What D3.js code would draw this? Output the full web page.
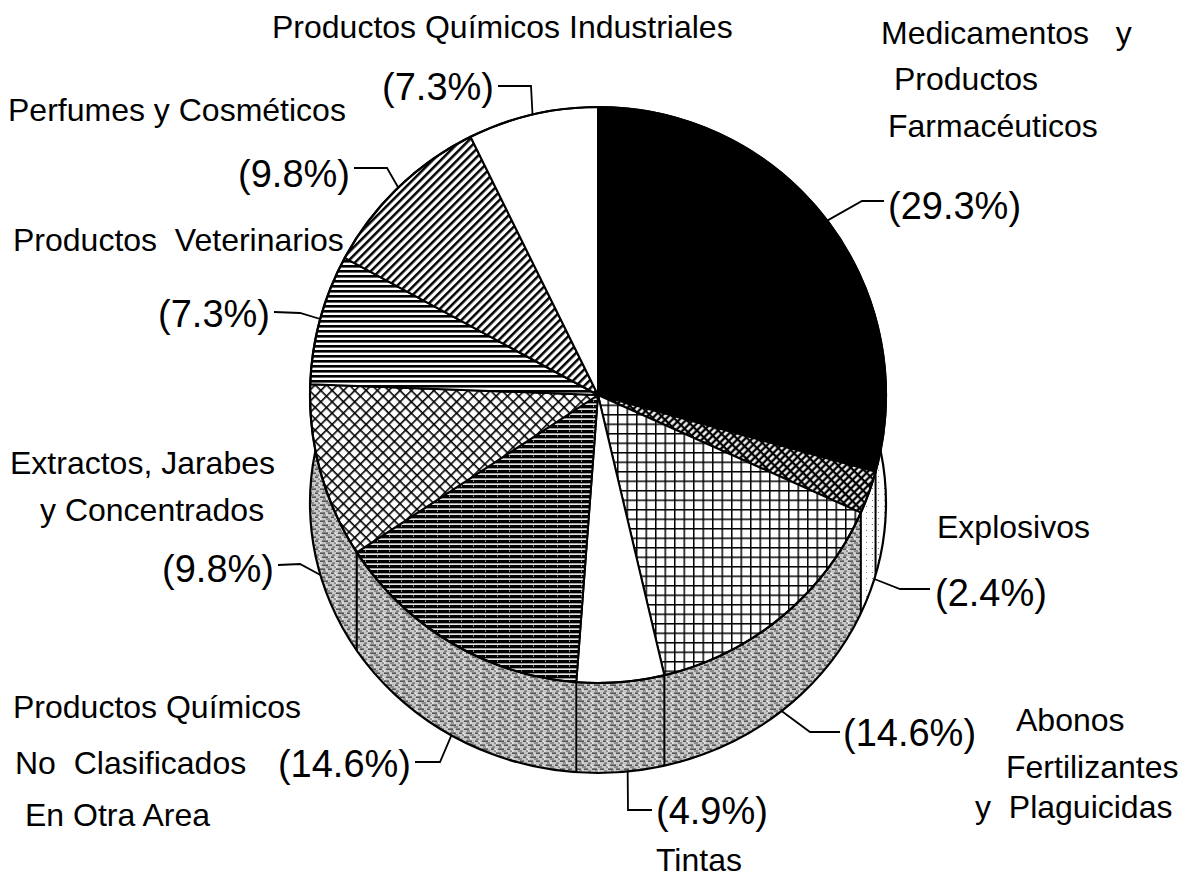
<!DOCTYPE html>
<html><head><meta charset="utf-8">
<script src="https://cdn.jsdelivr.net/npm/d3@7"></script>
<style>body{margin:0;background:#fff} svg{display:block} text{white-space:pre;font-family:"Liberation Sans",Arial,sans-serif;fill:#000}</style>
</head><body>
<svg id="c" width="1179" height="878"></svg>
<script>
// ---------- data ----------
const categories = ["Medicamentos y Productos Farmacéuticos","Explosivos","Abonos Fertilizantes y Plaguicidas","Tintas","Productos Químicos No Clasificados En Otra Area","Extractos, Jarabes y Concentrados","Productos Veterinarios","Perfumes y Cosméticos","Productos Químicos Industriales"];
const values = [29.3, 2.4, 14.6, 4.9, 14.6, 9.8, 7.3, 9.8, 7.3];
const percentLabels = ["(29.3%)","(2.4%)","(14.6%)","(4.9%)","(14.6%)","(9.8%)","(7.3%)","(9.8%)","(7.3%)"];
const nameLines = [["Medicamentos   y","Productos","Farmacéuticos"],["Explosivos"],["Abonos","Fertilizantes","y  Plaguicidas"],["Tintas"],["Productos Químicos","No  Clasificados","En Otra Area"],["Extractos, Jarabes","y Concentrados"],["Productos  Veterinarios"],["Perfumes y Cosméticos"],["Productos Químicos Industriales"]];

// ---------- layout / style ----------
const faceFill = ["#000","url(#pExpl)","url(#pGrid)","#fff","url(#pDarkH)","url(#pCross)","url(#pHoriz)","url(#pDiag)","#fff"];
const wallFill = ["url(#pWallLight)","url(#pWallLight)","url(#pWall)","url(#pWall)","url(#pWall)","url(#pWall)","url(#pWall)","url(#pWall)","url(#pWall)"];
const nameLayout = [
 [[881,44],[894,90],[888,137]], [[937,538]], [[1016,731],[1006,778],[975,818]], [[656,871]],
 [[13,718],[15,774],[25,826]], [[10,474],[40,521]], [[13,251]], [[8,121]], [[272,38]]
];
const pctLayout = [
 {x:888,y:219,a:"start"},{x:935,y:606,a:"start"},{x:843,y:746,a:"start"},{x:656,y:824,a:"start"},
 {x:411,y:777,a:"end"},{x:274,y:582,a:"end"},{x:270,y:327,a:"end"},{x:350,y:187,a:"end"},{x:494,y:100,a:"end"}
];
// where along each slice (0..1) the leader touches, then bend point and end point
const leaderAt = [0.5, 0.1, 0.5, 0.42, 0.5, 0.5, 0.5, 0.5, 0.5];
const leaderLayout = [
 [[862,201],[884,201]],[[900,589],[930,589]],[[810,732],[840,732]],[[628,810],[652,810]],
 [[440,762],[415,762]],[[300,564],[278,565]],[[300,313],[274,312]],[[387,168],[354,168]],[[531,86],[498,86]]
];

const cx = 598, cy = 395, R = 288, cyo = 503, ryo = 270;
const P = t => [cx + R*Math.sin(t), cy - R*Math.cos(t)];
const E = t => [cx + R*Math.sin(t), cyo - ryo*Math.cos(t)];

const svg = d3.select("#c");
const defs = svg.append("defs");
function pattern(id, w, h, tr, bg, rects){
  const p = defs.append("pattern").attr("id",id).attr("patternUnits","userSpaceOnUse")
    .attr("width",w).attr("height",h);
  if (tr) p.attr("patternTransform",tr);
  p.append("rect").attr("width",w).attr("height",h).attr("fill",bg);
  rects.forEach(r=>p.append("rect").attr("x",r[0]).attr("y",r[1]).attr("width",r[2]).attr("height",r[3]).attr("fill",r[4]));
}
pattern("pDiag",5.8,5.8,"rotate(45)","#fff",[[0,0,2.5,5.8,"#000"]]);
pattern("pHoriz",10,5,null,"#fff",[[0,0,10,2.6,"#000"]]);
pattern("pDarkH",12,5,null,"#000",[[0,3.4,12,1.5,"#fff"],[7,0.6,1,1,"#fff"]]);
pattern("pCross",8,8,"rotate(45)","#fff",[[0,0,8,1.6,"#000"],[0,0,1.6,8,"#000"]]);
pattern("pGrid",9.5,9.5,null,"#fff",[[0,0,9.5,1.5,"#000"],[0,0,1.5,9.5,"#000"]]);
pattern("pExpl",7.5,5,"rotate(-45)","#000",[[1,1.2,5.3,2.5,"#fff"]]);
pattern("pWall",16,8,null,"#c6c6c6",[
  [0,0.5,5,1.3,"#3a3a3a"],[8,0.5,4,1.3,"#3a3a3a"],[3,2.5,3,1,"#666"],[12,2.6,3,1,"#555"],
  [2,4.5,6,1.3,"#3a3a3a"],[11,4.5,3,1.3,"#3a3a3a"],[6,6.5,4,1,"#555"],[14,6.6,2,1,"#666"],
  [6,2.4,1.5,1,"#fff"],[15,5,1,1,"#fff"],[0,6.5,1.5,1,"#fff"]]);
pattern("pWallLight",6,6,null,"#fff",[[2,2,1,1,"#777"]]);

defs.append("clipPath").attr("id","ellClip").append("ellipse")
  .attr("cx",cx).attr("cy",cyo).attr("rx",R).attr("ry",ryo);

const arcs = d3.pie().sort(null).value(d=>d)(values);
const arcGen = d3.arc().innerRadius(0).outerRadius(R);
const line = d3.line();

// ---------- wall (side) ----------
const wall = svg.append("g").attr("clip-path","url(#ellClip)");
arcs.forEach((a,i)=>{
  const a0 = Math.max(a.startAngle, Math.PI/2), a1 = Math.min(a.endAngle, 1.5*Math.PI);
  if (a1 <= a0) return;
  const n = 60, pts = [];
  for (let k=0;k<=n;k++) pts.push(P(a0+(a1-a0)*k/n));
  for (let k=n;k>=0;k--) pts.push(E(a0+(a1-a0)*k/n));
  wall.append("path").attr("d", line(pts)+"Z").attr("fill", wallFill[i]);
});
arcs.forEach(a=>{
  const t = a.startAngle;
  if (t > Math.PI/2 && t < 1.5*Math.PI)
    wall.append("path").attr("d", line([P(t),E(t)])).attr("stroke","#000").attr("stroke-width",2).attr("fill","none");
});
svg.append("ellipse").attr("cx",cx).attr("cy",cyo).attr("rx",R).attr("ry",ryo)
  .attr("fill","none").attr("stroke","#000").attr("stroke-width",2.2);

// ---------- face ----------
const face = svg.append("g").attr("transform",`translate(${cx},${cy})`);
face.selectAll("path").data(arcs).join("path")
  .attr("d", arcGen).attr("fill",(d,i)=>faceFill[i])
  .attr("stroke","#000").attr("stroke-width",2).attr("stroke-linejoin","round");
face.append("circle").attr("r",R).attr("fill","none").attr("stroke","#000").attr("stroke-width",2.2);

// ---------- leaders ----------
function outside(pt){ return Math.hypot(pt[0]-cx, pt[1]-cy) > R; }
arcs.forEach((a,i)=>{
  const m = a.startAngle + (a.endAngle - a.startAngle)*leaderAt[i];
  const e = E(m);
  const s = outside(e) ? e : P(m);
  svg.append("path").attr("d", line([s, leaderLayout[i][0], leaderLayout[i][1]]))
    .attr("fill","none").attr("stroke","#000").attr("stroke-width",1.8);
});

// ---------- labels ----------
arcs.forEach((a,i)=>{
  const pl = pctLayout[i];
  svg.append("text").attr("x",pl.x).attr("y",pl.y).attr("text-anchor",pl.a)
    .attr("font-size",38).text(percentLabels[i]);
  nameLines[i].forEach((t,j)=>{
    svg.append("text").attr("x",nameLayout[i][j][0]).attr("y",nameLayout[i][j][1])
      .attr("font-size",32).text(t);
  });
});
</script>
</body></html>
